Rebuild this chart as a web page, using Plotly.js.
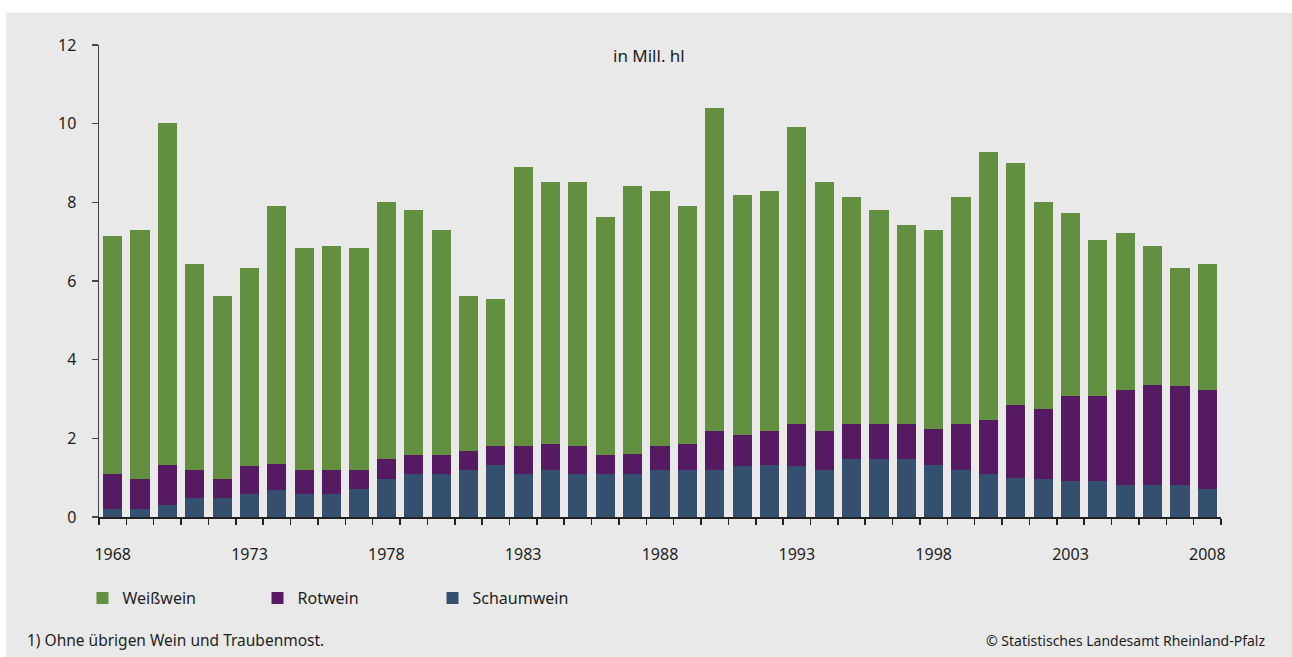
<!DOCTYPE html>
<html>
<head>
<meta charset="utf-8">
<script src="https://cdn.plot.ly/plotly-3.0.1.min.js"></script>
<style>
  html, body { margin: 0; padding: 0; background: #ffffff; }
  #chart { width: 1292px; height: 657px; }
</style>
</head>
<body>
<div id="chart"></div>
<script>
const years = ["1968","1969","1970","1971","1972","1973","1974","1975","1976","1977",
  "1978","1979","1980","1981","1982","1983","1984","1985","1986","1987",
  "1988","1989","1990","1991","1992","1993","1994","1995","1996","1997",
  "1998","1999","2000","2001","2002","2003","2004","2005","2006","2007","2008"];
const labeledYears = ["1968","1973","1978","1983","1988","1993","1998","2003","2008"];

const schaumwein = [0.20,0.20,0.30,0.48,0.48,0.58,0.68,0.58,0.58,0.71,
  0.96,1.09,1.09,1.19,1.32,1.09,1.19,1.09,1.09,1.09,
  1.19,1.19,1.19,1.29,1.32,1.29,1.19,1.47,1.47,1.47,
  1.32,1.19,1.09,0.99,0.96,0.91,0.91,0.81,0.81,0.81,0.71];
const rotwein = [0.89,0.76,1.02,0.71,0.48,0.71,0.66,0.61,0.61,0.48,
  0.51,0.48,0.48,0.49,0.48,0.71,0.66,0.71,0.48,0.51,
  0.61,0.66,1.00,0.79,0.87,1.07,1.00,0.89,0.89,0.89,
  0.92,1.17,1.38,1.86,1.79,2.17,2.17,2.42,2.55,2.52,2.52];
const weisswein = [6.05,6.33,8.70,5.23,4.67,5.05,6.56,5.66,5.71,5.66,
  6.55,6.23,5.72,3.95,3.73,7.09,6.66,6.71,6.05,6.81,
  6.48,6.05,8.21,6.10,6.09,7.55,6.32,5.77,5.44,5.06,
  5.05,5.77,6.81,6.15,5.27,4.66,3.95,4.00,3.54,3.01,3.21];

const FONT = "Noto Sans, Open Sans, sans-serif";
const TXT = "#1e1e1e";
const BG = "#e9e9e9";

const tickText = years.map(y => labeledYears.includes(y) ? y : "");

const traces = [
  { type: "bar", name: "Schaumwein", x: years, y: schaumwein, marker: { color: "#34506e" }, hoverinfo: "x+y+name" },
  { type: "bar", name: "Rotwein", x: years, y: rotwein, marker: { color: "#561a63" }, hoverinfo: "x+y+name" },
  { type: "bar", name: "Weißwein", x: years, y: weisswein, marker: { color: "#638f40" }, hoverinfo: "x+y+name" }
];

const layout = {
  width: 1292, height: 657,
  margin: { l: 99, r: 71, t: 45, b: 140 },
  paper_bgcolor: "#ffffff",
  plot_bgcolor: BG,
  barmode: "stack",
  bargap: 0.3,
  font: { family: FONT, size: 16, color: TXT },
  showlegend: true,
  legend: {
    orientation: "h", traceorder: "reversed",
    x: -0.0147, xanchor: "left", y: -0.1716, yanchor: "middle",
    bgcolor: "rgba(0,0,0,0)", font: { family: FONT, size: 16, color: TXT },
    entrywidth: 130, entrywidthmode: "pixels"
  },
  xaxis: {
    type: "category",
    tickmode: "array", tickvals: years, ticktext: tickText,
    tickson: "boundaries", tickangle: 0,
    ticks: "outside", ticklen: 6, tickwidth: 1.5, tickcolor: "#222",
    showline: true, linecolor: "#222", linewidth: 2,
    showgrid: false, zeroline: false,
    ticklabelstandoff: 22,
    tickfont: { family: FONT, size: 16, color: TXT },
    range: [-0.5, 40.5]
  },
  yaxis: {
    range: [0, 12], tickvals: [0,2,4,6,8,10,12],
    ticks: "outside", ticklen: 6, tickwidth: 1.5, tickcolor: "#444",
    showline: true, linecolor: "#444", linewidth: 1.5,
    showgrid: false, zeroline: false,
    ticklabelstandoff: 12,
    tickfont: { family: FONT, size: 16, color: TXT }
  },
  shapes: [
    { type: "rect", xref: "paper", yref: "paper", layer: "below",
      x0: (6 - 99) / 1122, x1: (1292 - 99) / 1122,
      y0: (517 - 657) / 472, y1: (517 - 13) / 472,
      fillcolor: BG, line: { width: 0 } }
  ],
  annotations: [
    { text: "in Mill. hl", xref: "paper", yref: "paper", x: (649 - 99) / 1122, y: (517 - 55) / 472,
      xanchor: "center", yanchor: "middle", showarrow: false, font: { family: FONT, size: 17, color: TXT } },
    { text: "1) Ohne übrigen Wein und Traubenmost.", xref: "paper", yref: "paper",
      x: (25 - 99) / 1122, y: (517 - 640) / 472, xanchor: "left", yanchor: "middle",
      showarrow: false, font: { family: FONT, size: 15.5, color: TXT } },
    { text: "© Statistisches Landesamt Rheinland-Pfalz", xref: "paper", yref: "paper",
      x: (1267 - 99) / 1122, y: (517 - 640) / 472, xanchor: "right", yanchor: "middle",
      showarrow: false, font: { family: FONT, size: 14, color: TXT } }
  ]
};

Plotly.newPlot("chart", traces, layout, { displayModeBar: false, staticPlot: true });
</script>
</body>
</html>
